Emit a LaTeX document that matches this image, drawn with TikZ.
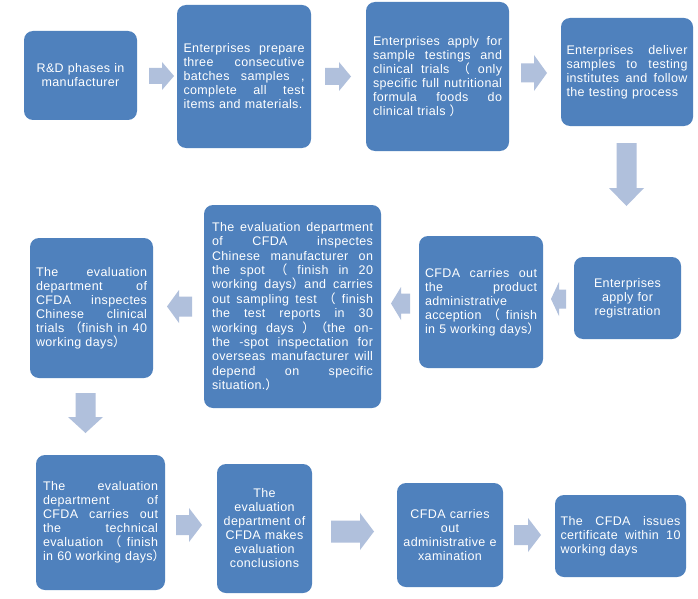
\documentclass[tikz,border=0pt]{standalone}
\usepackage{fontspec}
\setmainfont{Liberation Sans}[LetterSpace=3]
\newfontfamily\cjk{Noto Sans CJK SC}
\newcommand\flp{{\cjk （}}
\newcommand\frp{{\cjk ）}}
\newcommand\jl[1]{\makebox[\hsize][s]{\spaceskip=.278em plus 1fil\xspaceskip=.278em plus 1fil\relax #1}}
\definecolor{boxblue}{HTML}{4F81BD}
\definecolor{arrowblue}{HTML}{B0C0DC}
\tikzset{
  box/.style={rectangle, rounded corners=9pt, fill=boxblue, text=white,
    inner sep=0pt, align=left, font=\fontsize{12.5}{14}\selectfont},
  cbox/.style={box, align=center},
  blockarrow/.style={fill=arrowblue, draw=none}
}
% #1 cx, #2 cy, #3 angle, #4 length, #5 shaft, #6 head width, #7 head length
\newcommand\barrow[7]{%
  \fill[blockarrow, shift={(#1,#2)}, rotate=#3]
    ({-#4/2},{-#5/2}) -- ({#4/2-#7},{-#5/2}) -- ({#4/2-#7},{-#6/2}) --
    ({#4/2},0) -- ({#4/2-#7},{#6/2}) -- ({#4/2-#7},{#5/2}) --
    ({-#4/2},{#5/2}) -- cycle;}
\begin{document}
\begin{tikzpicture}[x=1pt, y=-1pt]
\useasboundingbox (0,0) rectangle (698,599);
\fill[white] (0,0) rectangle (698,599);

% Row 1
\node[cbox, minimum width=113pt, minimum height=89pt, text width=101pt] (b1) at (80.5,75.5)
  {R\&D phases in\\ manufacturer};
\node[box, minimum width=134pt, minimum height=143pt, text width=121pt] (b2) at (244,76.5)
  {\jl{Enterprises prepare}\\
   \jl{three consecutive}\\
   \jl{batches samples ,}\\
   \jl{complete all test}\\
   \mbox{items and materials.}};
\node[box, minimum width=143pt, minimum height=149pt, text width=129pt] (b3) at (437.5,76.5)
  {\jl{Enterprises apply for}\\
   \jl{sample testings and}\\
   \jl{clinical trials \flp\ only}\\
   \jl{specific full nutritional}\\
   \jl{formula foods do}\\
   clinical trials \frp};
\node[box, minimum width=132pt, minimum height=108pt, text width=121pt] (b4) at (627,72)
  {\jl{Enterprises deliver}\\
   \jl{samples to testing}\\
   \jl{institutes and follow}\\
   \mbox{the testing process}};

% Row 2
\node[cbox, minimum width=107pt, minimum height=82pt, text width=95pt] (b5) at (627.5,298)
  {Enterprises\\ apply for\\ registration};
\node[box, minimum width=124pt, minimum height=132pt, text width=112pt] (b6) at (481,302)
  {\jl{CFDA carries out}\\
   \jl{the product}\\
   administrative\\
   \jl{acception \flp\ finish}\\
   \mbox{in 5 working days\frp}};
\node[box, minimum width=177pt, minimum height=203pt, text width=161pt,
      font=\fontsize{12.5}{14.4}\selectfont] (b7) at (292.5,306.5)
  {\jl{The evaluation department}\\
   \jl{of CFDA inspectes}\\
   \jl{Chinese manufacturer on}\\
   \jl{the spot \flp\ finish in 20}\\
   \jl{working days\frp and carries}\\
   \jl{out sampling test \flp\ finish}\\
   \jl{the test reports in 30}\\
   \jl{working days \frp\flp the on-}\\
   \jl{the -spot inspectation for}\\
   \jl{overseas manufacturer will}\\
   \jl{depend on specific}\\
   situation.\frp};
\node[box, minimum width=123pt, minimum height=140pt, text width=111pt] (b8) at (91.5,308)
  {\jl{The evaluation}\\
   \jl{department of}\\
   \jl{CFDA inspectes}\\
   \jl{Chinese clinical}\\
   \jl{trials \flp finish in 40}\\
   working days\frp};

% Row 3
\node[box, minimum width=129pt, minimum height=135pt, text width=115pt] (b9) at (100.5,522.5)
  {\jl{The evaluation}\\
   \jl{department of}\\
   \jl{CFDA carries out}\\
   \jl{the technical}\\
   \jl{evaluation \flp\ finish}\\
   \mbox{in 60 working days\frp}};
\node[cbox, minimum width=95pt, minimum height=129pt, text width=88pt] (b10) at (264.5,528.5)
  {The\\ evaluation\\ department of\\ CFDA makes\\ evaluation\\ conclusions};
\node[cbox, minimum width=106pt, minimum height=104pt, text width=96pt] (b11) at (450,535)
  {CFDA carries\\ out\\ administrative e\\ xamination};
\node[box, minimum width=131pt, minimum height=82pt, text width=120pt] (b12) at (620.5,536)
  {\jl{The CFDA issues}\\
   \jl{certificate within 10}\\
   working days};

% Block arrows
\barrow{161.5}{76}{0}{25}{16}{28}{12}
\barrow{338}{76.5}{0}{26}{17}{29}{12}
\barrow{534}{73}{0}{26}{19}{36}{13}
\barrow{626.5}{174.5}{-90}{63}{20}{35}{18}
\barrow{558.5}{299}{180}{15}{19}{34}{8}
\barrow{400.5}{303.5}{180}{19}{20}{33}{10}
\barrow{179.5}{306.5}{180}{25}{20}{33}{12}
\barrow{85.5}{413}{-90}{40}{20}{35}{16}
\barrow{189}{525}{0}{26}{20}{34}{13}
\barrow{352.5}{531.5}{0}{43}{22}{37}{14}
\barrow{527.5}{535}{0}{27}{20}{34}{13}
\end{tikzpicture}
\end{document}
